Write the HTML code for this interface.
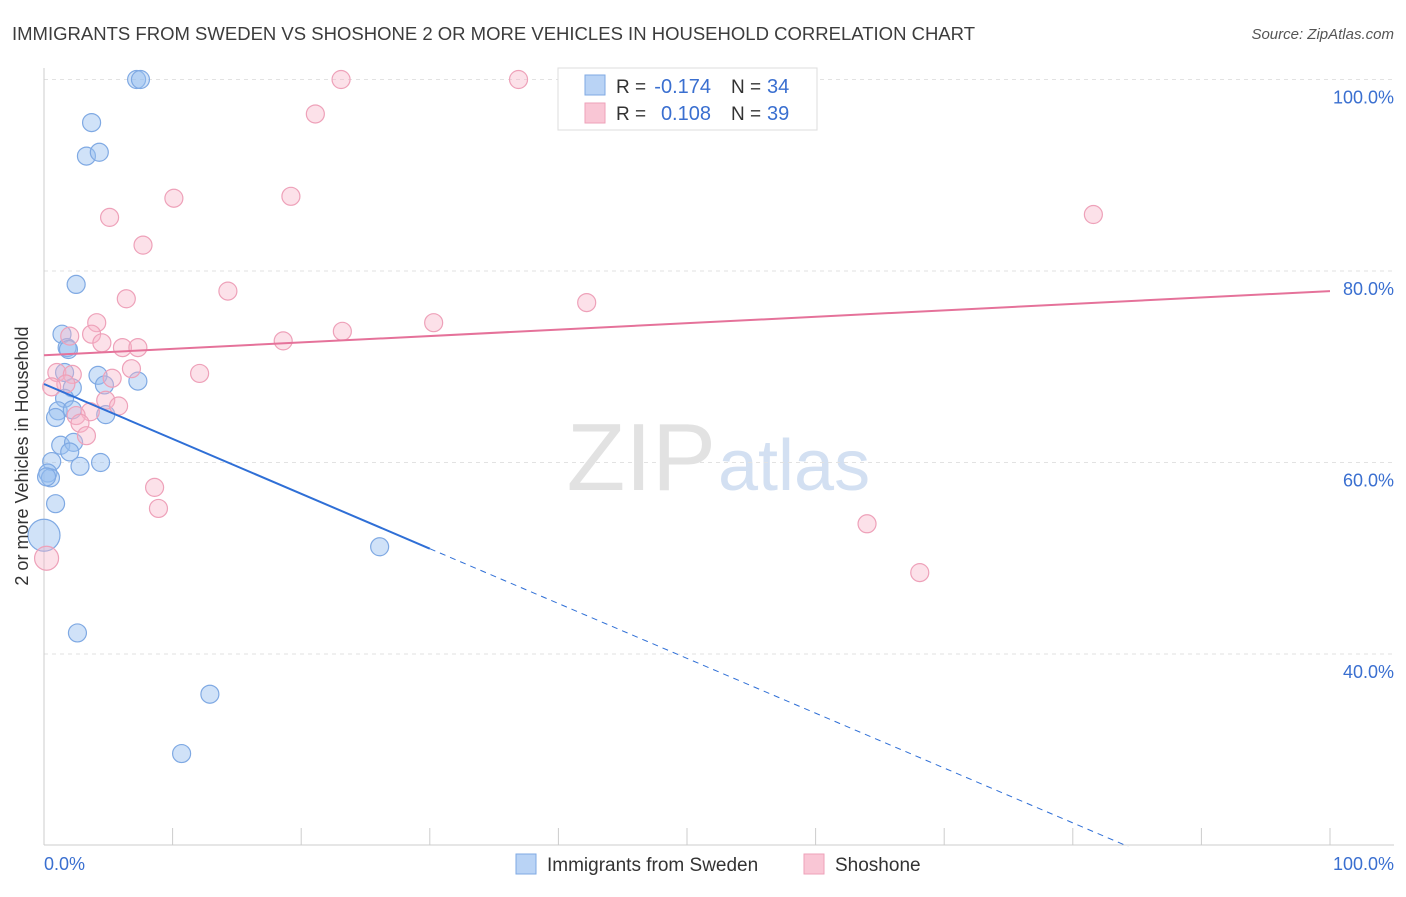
<!DOCTYPE html>
<html><head><meta charset="utf-8"><style>
body{margin:0;background:#fff;font-family:"Liberation Sans",sans-serif;}
svg text{font-family:"Liberation Sans",sans-serif;}
</style></head><body>
<svg id="c" width="1406" height="892">
<text x="12" y="40" font-size="18" fill="#3c3c3c" textLength="963" lengthAdjust="spacingAndGlyphs">IMMIGRANTS FROM SWEDEN VS SHOSHONE 2 OR MORE VEHICLES IN HOUSEHOLD CORRELATION CHART</text>
<text x="1394" y="39" font-size="15" fill="#555" text-anchor="end" font-style="italic">Source: ZipAtlas.com</text>
<text x="716" y="490" font-size="96" fill="#e2e2e2" text-anchor="end" font-family="Liberation Serif">ZIP</text>
<text x="718" y="490" font-size="72" fill="#d3e0f2">atlas</text>
<g id="grid"></g><g id="pts"></g><g id="lines"></g>
<text x="28" y="456" font-size="18" fill="#333" text-anchor="middle" transform="rotate(-90 28 456)">2 or more Vehicles in Household</text>
<text x="44" y="870" font-size="18" fill="#3a6fd0">0.0%</text>
<text x="1394" y="870" font-size="18" fill="#3a6fd0" text-anchor="end">100.0%</text>
<g>
<rect x="558" y="68" width="259" height="62" fill="#fff" stroke="#ddd"/>
<rect x="585" y="75" width="20" height="20" fill="#b9d3f5" stroke="#7fa9e3"/>
<rect x="585" y="103" width="20" height="20" fill="#f9c6d5" stroke="#eea1b9"/>
<text x="616" y="93" font-size="19" fill="#333">R =</text>
<text x="711" y="93" font-size="20" fill="#3a6fd0" text-anchor="end">-0.174</text>
<text x="731" y="93" font-size="19" fill="#333">N =</text>
<text x="767" y="93" font-size="20" fill="#3a6fd0">34</text>
<text x="616" y="120" font-size="19" fill="#333">R =</text>
<text x="711" y="120" font-size="20" fill="#3a6fd0" text-anchor="end">0.108</text>
<text x="731" y="120" font-size="19" fill="#333">N =</text>
<text x="767" y="120" font-size="20" fill="#3a6fd0">39</text>
</g>
<g>
<rect x="516" y="854" width="20" height="20" fill="#b9d3f5" stroke="#7fa9e3"/>
<text x="547" y="871" font-size="19" fill="#333">Immigrants from Sweden</text>
<rect x="804" y="854" width="20" height="20" fill="#f9c6d5" stroke="#eea1b9"/>
<text x="835" y="871" font-size="19" fill="#333">Shoshone</text>
</g>
</svg>
<script>
const yTicks=[40,60,80,100];
const yTickLabels=["40.0%","60.0%","80.0%","100.0%"];
const blueX=[7.2,7.5,3.7,3.3,4.3,2.5,1.4,1.8,1.9,1.6,4.2,4.7,7.3,2.2,1.6,1.1,2.2,0.9,4.8,1.3,2.3,2.0,2.8,4.4,0.6,0.3,0.5,0.2,0.9,0.0,26.1,2.6,12.9,10.7];
const blueY=[100,100,95.5,92,92.4,78.6,73.4,72,71.8,69.4,69.1,68.1,68.5,67.8,66.7,65.4,65.5,64.7,65,61.8,62.1,61.1,59.6,60,60.1,58.9,58.4,58.5,55.7,52.4,51.2,42.2,35.8,29.6];
const blueR=[9,9,9,9,9,9,9,9,9,9,9,9,9,9,9,9,9,9,9,9,9,9,9,9,9,9,9,9,9,16,9,9,9,9];
const pinkX=[23.1,36.9,21.1,10.1,19.2,5.1,7.7,81.6,14.3,6.4,42.2,4.1,30.3,23.2,3.7,2.0,4.5,18.6,6.1,7.3,1.0,2.2,12.1,6.8,5.3,1.7,0.6,4.8,5.8,3.6,2.5,2.8,3.3,8.6,8.9,64.0,68.1,0.2];
const pinkY=[100,100,96.4,87.6,87.8,85.6,82.7,85.9,77.9,77.1,76.7,74.6,74.6,73.7,73.4,73.2,72.5,72.7,72.0,72.0,69.4,69.2,69.3,69.8,68.8,68.2,67.9,66.5,65.9,65.3,64.9,64.1,62.8,57.4,55.2,53.6,48.5,50.0];
const pinkR=[9,9,9,9,9,9,9,9,9,9,9,9,9,9,9,9,9,9,9,9,9,9,9,9,9,9,9,9,9,9,9,9,9,9,9,9,9,12];
const X=v=>44+v*12.86, Y=v=>79.5+(100-v)*9.575;
const NS="http://www.w3.org/2000/svg";
function mk(tag,attrs,parent){const e=document.createElementNS(NS,tag);for(const k in attrs)e.setAttribute(k,attrs[k]);parent.appendChild(e);return e;}
const svg=document.getElementById('c'),grid=document.getElementById('grid'),pts=document.getElementById('pts'),lines=document.getElementById('lines');
yTicks.forEach((t,i)=>{
 const l=mk('line',{x1:44,x2:1394,y1:Y(t),y2:Y(t),stroke:'#e2e2e2','stroke-dasharray':'4 4'},grid);
 
 
 const tx=mk('text',{x:1394,y:Y(t)+24,'font-size':18,fill:'#3a6fd0','text-anchor':'end'},grid);
 tx.textContent=yTickLabels[i];
 
 
});
const ax=mk('line',{x1:44,x2:44,y1:68,y2:845,stroke:'#ccc'},grid);


const bx=mk('line',{x1:44,x2:1394,y1:845,y2:845,stroke:'#ccc'},grid);


for(let i=0;i<=10;i++){const t=mk('line',{x1:X(i*10),x2:X(i*10),y1:828,y2:845,stroke:'#ccc'},grid);
 
 }
blueX.forEach((v,i)=>{const c=mk('circle',{cx:X(v),cy:Y(blueY[i]),r:blueR[i],fill:'rgba(150,190,240,0.45)',stroke:'#7fa9e3','stroke-width':1.2},pts);
 
 });
pinkX.forEach((v,i)=>{const c=mk('circle',{cx:X(v),cy:Y(pinkY[i]),r:pinkR[i],fill:'rgba(248,180,200,0.4)',stroke:'#eea1b9','stroke-width':1.2},pts);
 
 });
const b1=mk('line',{x1:X(0),y1:Y(68.2),x2:X(30),y2:Y(51.0),stroke:'#2f6fd6','stroke-width':2},lines);


const b2=mk('line',{x1:X(30),y1:Y(51.0),x2:X(84.3),y2:Y(19.9),stroke:'#2f6fd6','stroke-width':1,'stroke-dasharray':'6 5'},lines);


const p1=mk('line',{x1:X(0),y1:Y(71.2),x2:X(100),y2:Y(77.9),stroke:'#e5729a','stroke-width':2},lines);


</script>
</body></html>
